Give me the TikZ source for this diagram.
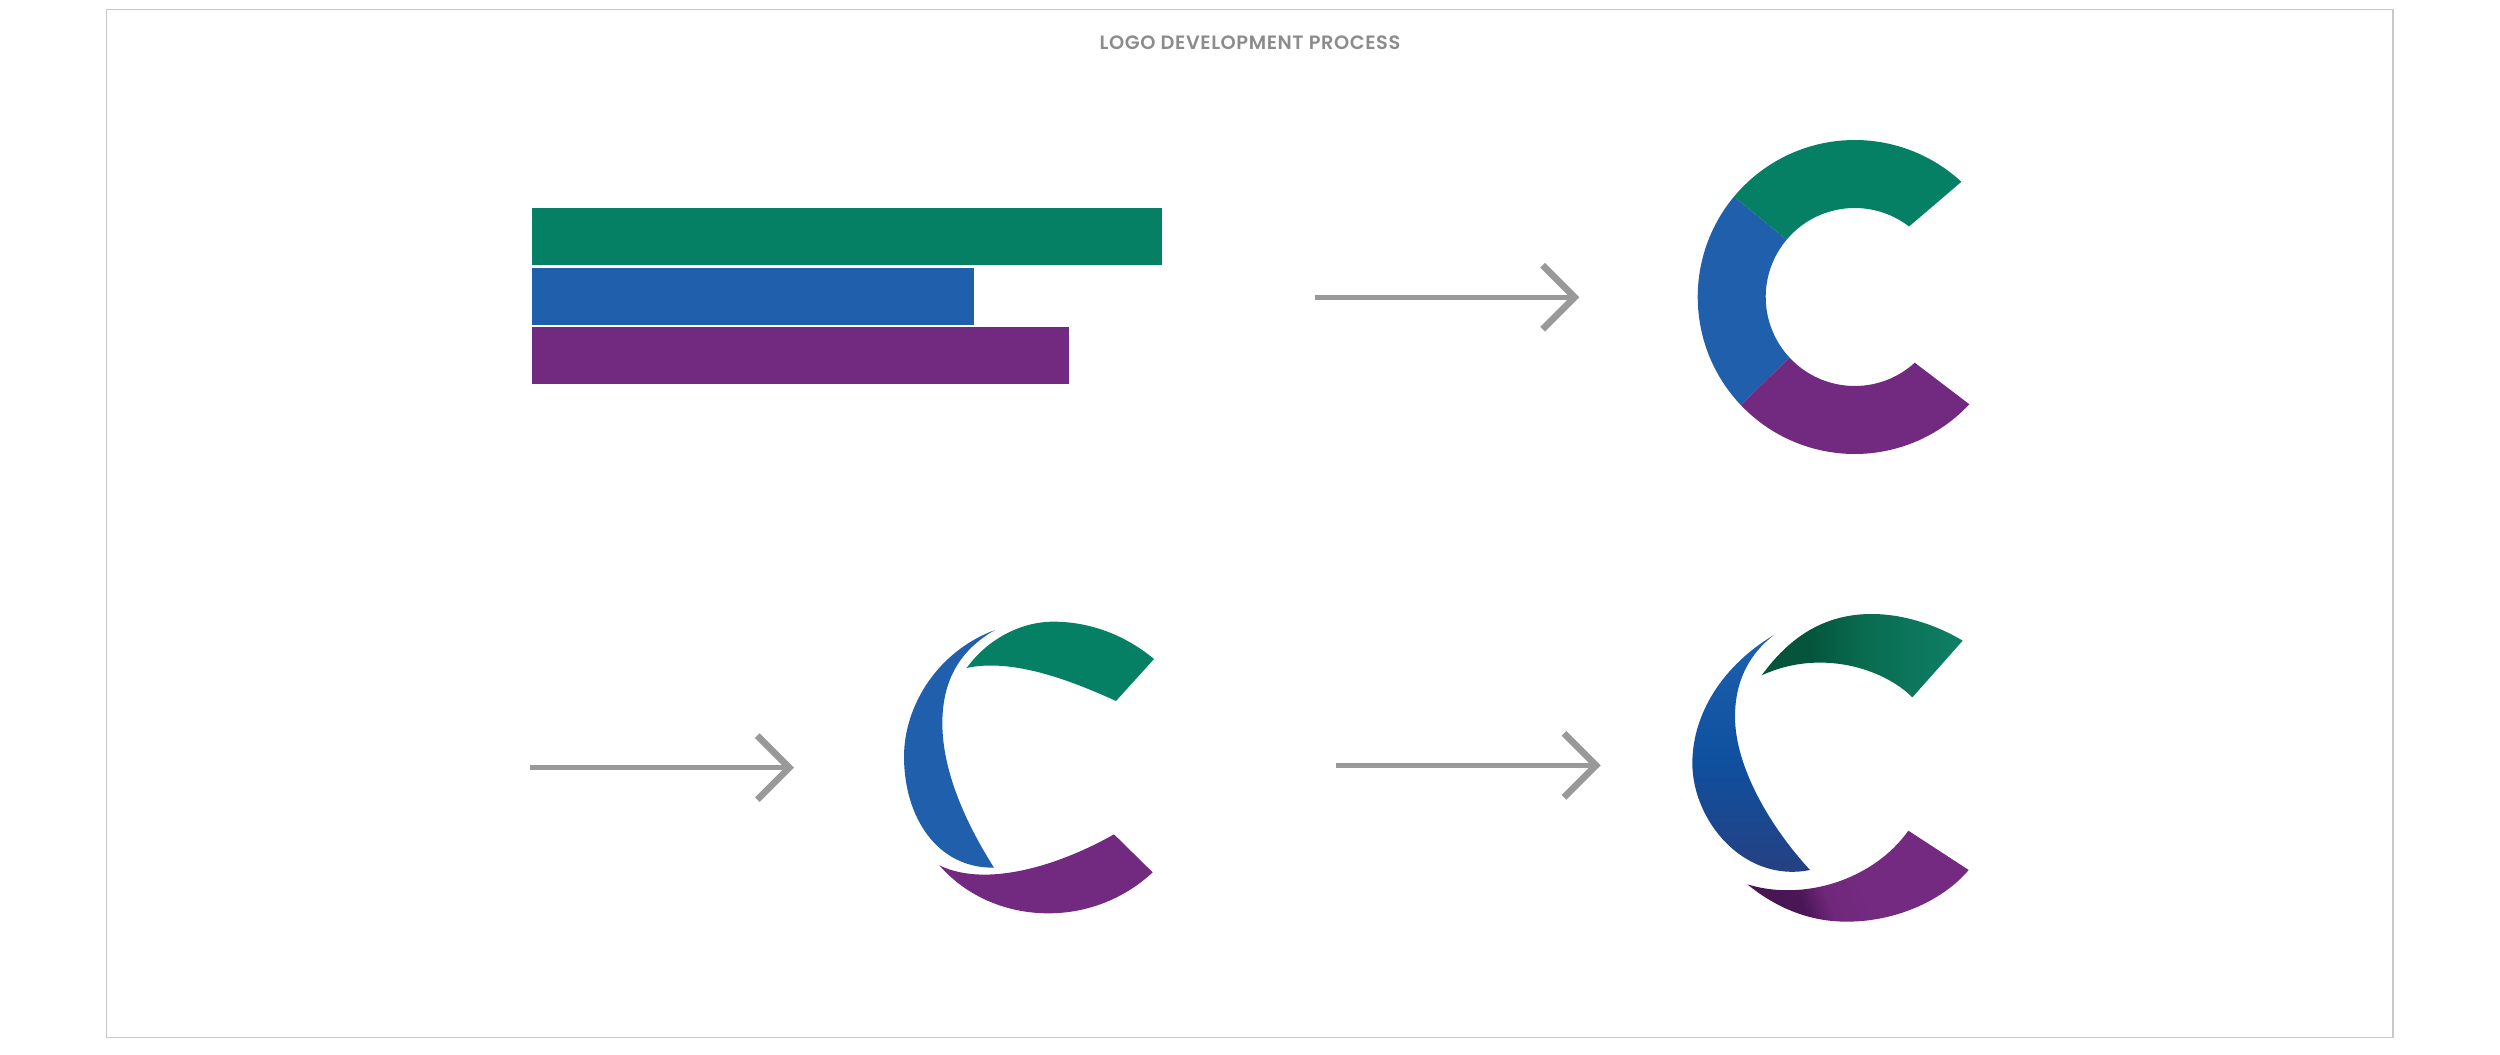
\documentclass[tikz,border=0pt]{standalone}
\usepackage{fontspec}
\usepackage{xcolor}
\usepackage{tikz}
\usetikzlibrary{arrows.meta}
\setmainfont[UprightFont=* SemiBold,LetterSpace=3]{Poppins}
\definecolor{logogreen}{HTML}{068065}
\definecolor{logoblue}{HTML}{205FAC}
\definecolor{logopurple}{HTML}{722A80}
\definecolor{arrowgray}{HTML}{999999}
\definecolor{framegray}{HTML}{C9C9CD}
\definecolor{titlegray}{HTML}{8C8C8C}
\definecolor{greenA}{HTML}{04553B}
\definecolor{greenB}{HTML}{096B50}
\definecolor{greenC}{HTML}{0F8065}
\definecolor{purpleA}{HTML}{46144F}
\definecolor{purpleB}{HTML}{4A1656}
\definecolor{purpleC}{HTML}{6F287B}
\definecolor{purpleD}{HTML}{732A80}
\definecolor{blueA}{HTML}{273F7F}
\definecolor{blueB}{HTML}{0F509F}
\definecolor{blueC}{HTML}{1F60AD}
\pgfdeclarehorizontalshading{greenfade}{100bp}{color(0bp)=(greenA); color(37bp)=(greenA); color(50bp)=(greenB); color(75bp)=(greenC); color(100bp)=(greenC)}
\pgfdeclarehorizontalshading{purplefade}{100bp}{color(0bp)=(purpleA); color(33bp)=(purpleB); color(40bp)=(purpleC); color(50bp)=(purpleD); color(100bp)=(purpleD)}
\pgfdeclareverticalshading{bluefade}{100bp}{color(0bp)=(blueA); color(25bp)=(blueA); color(50bp)=(blueB); color(75bp)=(blueC); color(100bp)=(blueC)}
\begin{document}
\begin{tikzpicture}[x=0.01cm,y=0.01cm]
\tikzstyle{every node}+=[inner sep=0pt]
\tikzstyle{grayarrow}=[arrowgray, line width=1.4pt, -{Straight Barb[length=3.2mm,width=6.4mm,line width=1.9pt]}]
\useasboundingbox (0,0) rectangle (2500,-1055);
\draw [framegray, line width=0.42pt] (106.5,-9.5) rectangle (2393,-1037.5);
\node (title) at (1250,-42.7) {\fontsize{5.5}{7}\selectfont\color{titlegray}LOGO DEVELOPMENT PROCESS};
\fill [logogreen] (531.7,-208.3) rectangle (1162.4,-265.3);
\fill [logoblue] (531.7,-267.7) rectangle (973.8,-324.7);
\fill [logopurple] (531.7,-327.3) rectangle (1069.4,-384);
\coordinate (arrowAs) at (1315,-297.3);
\coordinate (arrowAe) at (1579.3,-297.3);
\draw [grayarrow] (arrowAs) -- (arrowAe);
\coordinate (arrowBs) at (530,-767.7);
\coordinate (arrowBe) at (794,-767.7);
\draw [grayarrow] (arrowBs) -- (arrowBe);
\coordinate (arrowCs) at (1336,-765.3);
\coordinate (arrowCe) at (1600.7,-765.3);
\draw [grayarrow] (arrowCs) -- (arrowCe);
\begin{scope}[shift={(1854.7,-297)}]
\fill [logogreen] (47.2:157) arc (47.2:140.3:157) -- (140:89) arc (140:52.4:89) -- cycle;
\fill [logoblue] (140.3:157) arc (140.3:223.5:157) -- (223:89) arc (223:140:89) -- cycle;
\fill [logopurple] (223.5:157) arc (223.5:316.9:157) -- (312.4:89) arc (312.4:223:89) -- cycle;
\end{scope}
\fill [logogreen] (966.67,-668) .. controls (986.67,-640) and (1020,-621.67) .. (1053.33,-621.67) .. controls (1090,-621.67) and (1125,-635) .. (1154,-659) -- (1116,-701) .. controls (1066.67,-678.33) and (1010,-658.33) .. (966.67,-668) -- cycle;
\fill [logoblue] (995,-630) .. controls (936.67,-651.67) and (904,-706.67) .. (904,-756.67) .. controls (904,-816.67) and (936.67,-868.33) .. (994,-867.67) .. controls (961.67,-816.67) and (942.33,-766.67) .. (942.33,-723.33) .. controls (942.33,-680) and (960,-650) .. (995,-630) -- cycle;
\fill [logopurple] (939.33,-865.33) .. controls (966.67,-896.67) and (1006.67,-913.33) .. (1048.33,-913.33) .. controls (1090,-913.33) and (1126.67,-896.67) .. (1152.67,-872.33) -- (1114,-834.33) .. controls (1060,-865) and (986.67,-888.33) .. (939.33,-865.33) -- cycle;
\shade [shading=greenfade] (1761.67,-675.33) .. controls (1793.33,-631.67) and (1830,-614) .. (1871.67,-614) .. controls (1903.33,-614) and (1936.67,-625) .. (1962.67,-640.67) -- (1912.33,-697.33) .. controls (1883.33,-668.33) and (1820,-648.33) .. (1761.67,-675.33) -- cycle;
\shade [shading=bluefade] (1774,-635) .. controls (1723.33,-665) and (1692.33,-713.33) .. (1692.33,-763.33) .. controls (1692.33,-820) and (1743.33,-883.33) .. (1810,-870) .. controls (1770,-826.67) and (1735,-766.67) .. (1735,-716.67) .. controls (1735,-680) and (1750,-653.33) .. (1774,-635) -- cycle;
\shade [shading=purplefade, shading angle=21] (1747.33,-884.33) .. controls (1776.67,-908.33) and (1810,-921.67) .. (1846.67,-921.67) .. controls (1896.67,-921.67) and (1943.33,-900) .. (1968.67,-870) -- (1908.33,-830.67) .. controls (1873.33,-880) and (1803.33,-901.67) .. (1747.33,-884.33) -- cycle;
\end{tikzpicture}
\end{document}
